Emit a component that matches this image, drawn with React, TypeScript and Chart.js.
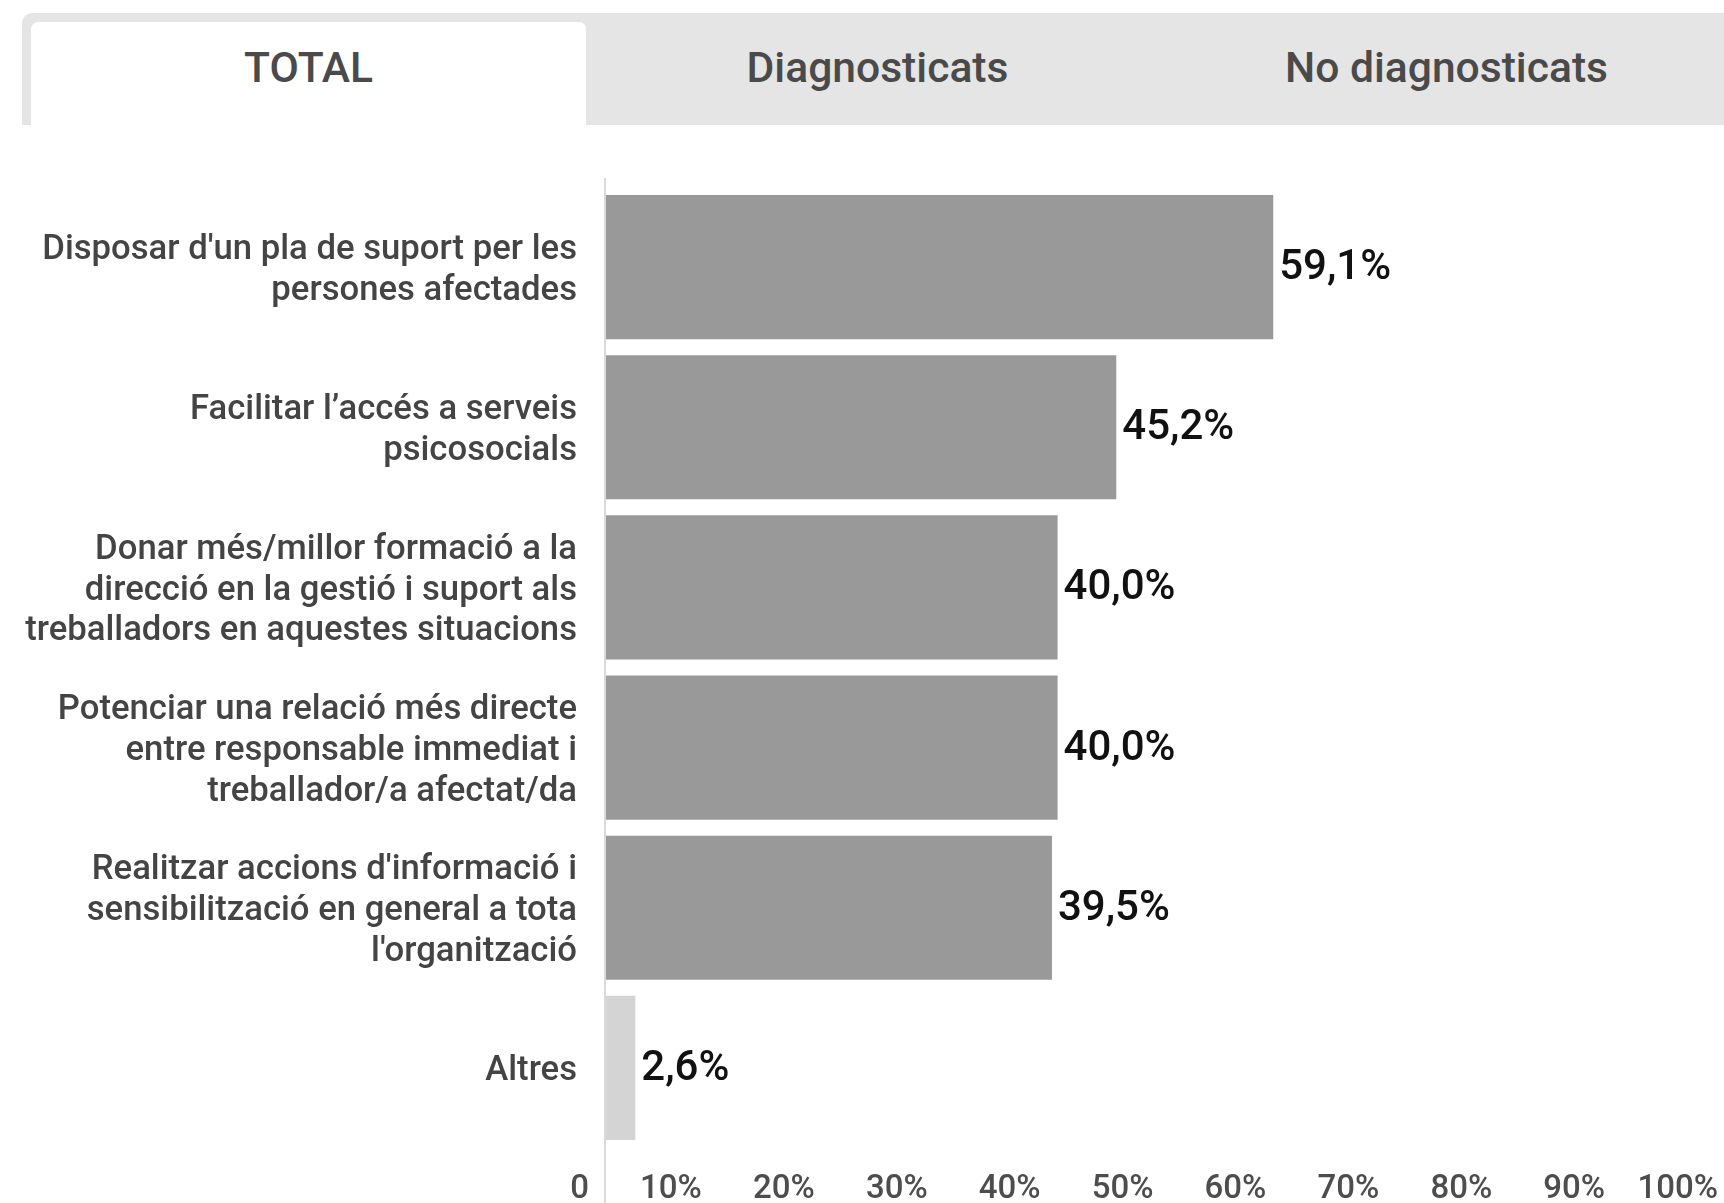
import React, { useEffect, useRef } from "react";
import { Chart, registerables } from "chart.js";

Chart.register(...registerables);

const categories: string[][] = [
  ["Disposar d'un pla de suport per les", "persones afectades"],
  ["Facilitar l’accés a serveis", "psicosocials"],
  ["Donar més/millor formació a la", "direcció en la gestió i suport als", "treballadors en aquestes situacions"],
  ["Potenciar una relació més directe", "entre responsable immediat i", "treballador/a afectat/da"],
  ["Realitzar accions d'informació i", "sensibilització en general a tota", "l'organització"],
  ["Altres"],
];
const values: number[] = [59.1, 45.2, 40.0, 40.0, 39.5, 2.6];
const barColors: string[] = ["#999999", "#999999", "#999999", "#999999", "#999999", "#d4d4d4"];
const tabs: string[] = ["TOTAL", "Diagnosticats", "No diagnosticats"];
const xMin = 0;
const xMax = 100;
const xStep = 10;

const CANVAS_W = 1760;
const CANVAS_H = 1240;

const fmtValue = (v: number) => v.toFixed(1).replace(".", ",") + "%";

const axisLinePlugin = {
  id: "axisLine",
  beforeDatasetsDraw(chart: any) {
    const { ctx, chartArea } = chart;
    ctx.save();
    ctx.strokeStyle = "#dadada";
    ctx.lineWidth = 2;
    ctx.beginPath();
    ctx.moveTo(chartArea.left - 1, chartArea.top - 9);
    ctx.lineTo(chartArea.left - 1, chart.height);
    ctx.stroke();
    ctx.restore();
  },
};

const valueLabelPlugin = {
  id: "valueLabels",
  afterDatasetsDraw(chart: any) {
    const { ctx } = chart;
    const meta = chart.getDatasetMeta(0);
    ctx.save();
    ctx.font = "500 42px Roboto";
    ctx.fillStyle = "#111111";
    ctx.textAlign = "left";
    ctx.textBaseline = "middle";
    meta.data.forEach((bar: any, i: number) => {
      ctx.fillText(fmtValue(values[i]), bar.x + 6, bar.y + 1.5);
    });
    ctx.restore();
  },
};

function BarChart() {
  const ref = useRef<HTMLCanvasElement | null>(null);
  useEffect(() => {
    let chart: Chart | null = null;
    let cancelled = false;
    const build = () => {
      if (cancelled || !ref.current) return;
      chart = new Chart(ref.current, {
        type: "bar",
        data: {
          labels: categories as any,
          datasets: [
            {
              data: values,
              backgroundColor: barColors,
              borderWidth: 0,
              categoryPercentage: 0.9,
              barPercentage: 1.0,
            },
          ],
        },
        options: {
          indexAxis: "y",
          responsive: false,
          animation: false,
          devicePixelRatio: 1,
          layout: { padding: { top: 187, right: 25, bottom: 0, left: 0 } },
          plugins: { legend: { display: false }, tooltip: { enabled: false } },
          scales: {
            x: {
              type: "linear",
              position: "bottom",
              min: xMin,
              max: xMax,
              grid: { display: false, drawTicks: false },
              border: { display: false },
              ticks: {
                stepSize: xStep,
                align: "end",
                labelOffset: -17,
                padding: 22,
                autoSkip: false,
                maxRotation: 0,
                color: "#4d4d4d",
                font: { family: "Roboto", size: 33, weight: "500", lineHeight: 1.2 },
                callback: (v: any) => (Number(v) === 0 ? "0" : `${v}%`),
              },
              afterFit: (s: any) => {
                s.height = 92;
              },
            },
            y: {
              type: "category",
              grid: { display: false, drawTicks: false },
              border: { display: false },
              ticks: {
                padding: 29,
                labelOffset: 3.5,
                autoSkip: false,
                color: "#444444",
                font: { family: "Roboto", size: 34.7, weight: "500", lineHeight: 1.175 },
              },
              afterFit: (s: any) => {
                s.width = 606;
              },
            },
          },
        } as any,
        plugins: [axisLinePlugin, valueLabelPlugin],
      });
    };
    const fontsReady = (document as any).fonts
      ? Promise.all([
          (document as any).fonts.load("400 33px Roboto"),
          (document as any).fonts.load("500 33px Roboto"),
          (document as any).fonts.load("500 42px Roboto"),
        ]).catch(() => null)
      : Promise.resolve(null);
    fontsReady.then(build);
    return () => {
      cancelled = true;
      if (chart) chart.destroy();
    };
  }, []);
  return (
    <canvas
      ref={ref}
      width={CANVAS_W}
      height={CANVAS_H}
      style={{ position: "absolute", left: 0, top: 0, width: CANVAS_W, height: CANVAS_H }}
    />
  );
}

export default function App() {
  const tabW = 555;
  const tabLefts = [31, 600, 1169];
  return (
    <div
      style={{
        position: "fixed",
        left: 0,
        top: 0,
        width: 1724,
        height: 1203,
        overflow: "hidden",
        background: "#ffffff",
        fontFamily: "Roboto, sans-serif",
      }}
    >
      <div
        style={{
          position: "absolute",
          left: 22,
          top: 13,
          width: 1724 - 22,
          height: 112,
          background: "#e5e5e5",
          borderTopLeftRadius: 10,
        }}
      />
      <div
        style={{
          position: "absolute",
          left: 31,
          top: 22,
          width: tabW,
          height: 103,
          background: "#ffffff",
          borderTopLeftRadius: 7,
          borderTopRightRadius: 7,
        }}
      />
      {tabs.map((t, i) => (
        <div
          key={t}
          style={{
            position: "absolute",
            left: tabLefts[i],
            top: 0,
            width: tabW,
            height: 134,
            display: "flex",
            alignItems: "center",
            justifyContent: "center",
            fontSize: 42.6,
            fontWeight: 500,
            color: "#4a4a4a",
            lineHeight: "normal",
          }}
        >
          {t}
        </div>
      ))}
      <BarChart />
    </div>
  );
}
